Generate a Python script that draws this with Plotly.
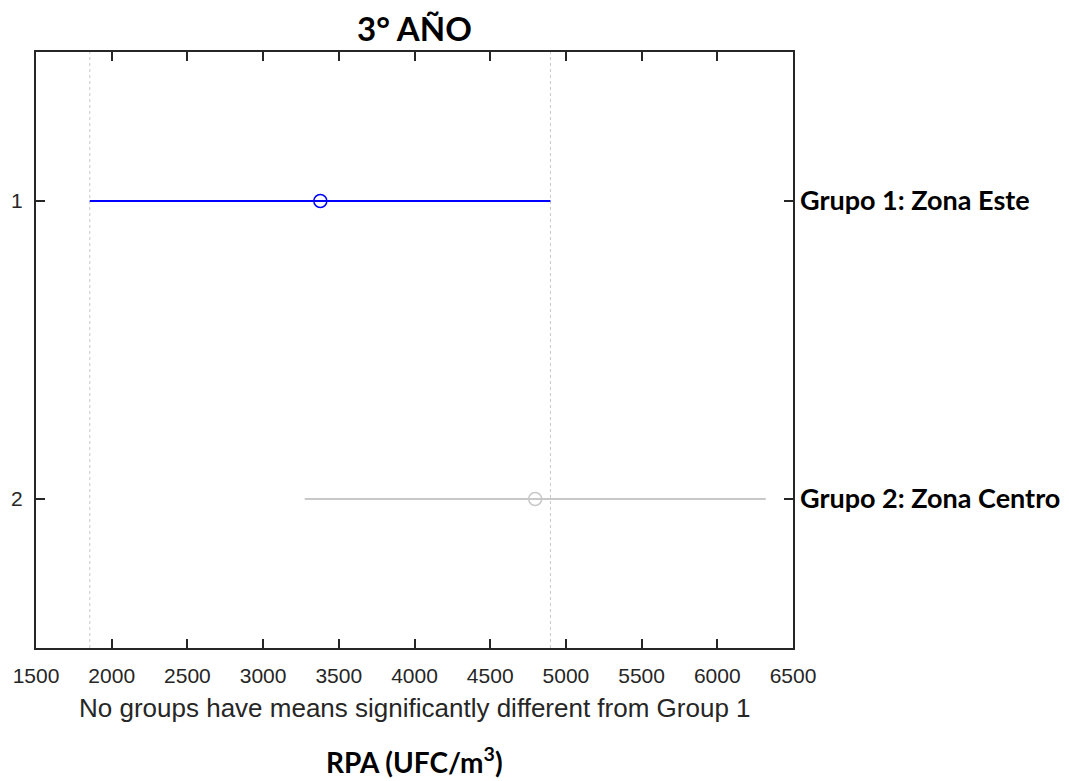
import plotly.graph_objects as go

# Multiple comparison intervals
group_ids = [1, 2]
group_labels = ["Grupo 1: Zona Este", "Grupo 2: Zona Centro"]
means = [3378, 4797]
lower = [1855, 3275]
upper = [4898, 6320]
group_colors = ["#0000FF", "#C8C8C8"]

x_ticks = [1500, 2000, 2500, 3000, 3500, 4000, 4500, 5000, 5500, 6000, 6500]

AXIS_COLOR = "#262626"
LABEL_FONT = "Lato"
TICK_FONT = "Liberation Sans"

fig = go.Figure()

for idx, gid in enumerate(group_ids):
    fig.add_trace(
        go.Scatter(
            x=[lower[idx], upper[idx]],
            y=[gid, gid],
            mode="lines",
            line=dict(color=group_colors[idx], width=2),
            showlegend=False,
            hoverinfo="skip",
        )
    )
    fig.add_trace(
        go.Scatter(
            x=[means[idx]],
            y=[gid],
            mode="markers",
            marker=dict(
                symbol="circle-open",
                size=13,
                color=group_colors[idx],
                line=dict(width=1.5, color=group_colors[idx]),
            ),
            showlegend=False,
        )
    )

# dotted reference lines at the ends of group 1's interval
for xv in (lower[0], upper[0]):
    fig.add_shape(
        type="line",
        x0=xv,
        x1=xv,
        y0=0,
        y1=1,
        xref="x",
        yref="paper",
        line=dict(color="#C8C8C8", width=1, dash="dot"),
        layer="below",
    )

# invisible trace so the right-hand label axis is drawn
fig.add_trace(
    go.Scatter(x=[means[0]], y=[group_ids[0]], yaxis="y2", mode="markers",
               marker=dict(opacity=0), showlegend=False, hoverinfo="skip")
)

fig.update_layout(
    width=1061,
    height=773,
    plot_bgcolor="white",
    paper_bgcolor="white",
    margin=dict(l=28, r=276, t=44, b=133, pad=0),
    title=dict(
        text="<b>3° AÑO</b>",
        xref="paper",
        x=0.5,
        xanchor="center",
        y=1 - 21 / 773,
        yanchor="middle",
        font=dict(family=LABEL_FONT, size=33, color="black"),
    ),
    xaxis=dict(
        range=[1500, 6500],
        tickvals=x_ticks,
        ticks="inside",
        ticklen=9,
        tickwidth=2,
        tickcolor=AXIS_COLOR,
        showline=True,
        linewidth=2,
        linecolor=AXIS_COLOR,
        mirror="ticks",
        showgrid=False,
        zeroline=False,
        automargin=False,
        ticklabelstandoff=8,
        tickfont=dict(family=TICK_FONT, size=21, color=AXIS_COLOR),
    ),
    yaxis=dict(
        range=[2.5, 0.5],
        tickvals=group_ids,
        ticks="inside",
        ticklen=9,
        tickwidth=2,
        tickcolor=AXIS_COLOR,
        showline=True,
        linewidth=2,
        linecolor=AXIS_COLOR,
        mirror="ticks",
        showgrid=False,
        zeroline=False,
        automargin=False,
        ticklabelstandoff=7,
        tickfont=dict(family=TICK_FONT, size=21, color=AXIS_COLOR),
    ),
    yaxis2=dict(
        overlaying="y",
        side="right",
        range=[2.5, 0.5],
        tickvals=group_ids,
        ticktext=group_labels,
        ticks="",
        showline=False,
        showgrid=False,
        zeroline=False,
        automargin=False,
        ticklabelstandoff=6,
        tickfont=dict(family=LABEL_FONT, size=27, color="black", weight="bold"),
    ),
    annotations=[
        dict(
            text="No groups have means significantly different from Group 1",
            xref="paper",
            yref="paper",
            x=0.5,
            y=1 - (708 - 52) / 596,
            xanchor="center",
            yanchor="middle",
            showarrow=False,
            font=dict(family=TICK_FONT, size=26, color=AXIS_COLOR),
        ),
        dict(
            text="<b>RPA (UFC/m<sup>3</sup>)</b>",
            xref="paper",
            yref="paper",
            x=0.5,
            y=1 - (760 - 52) / 596,
            xanchor="center",
            yanchor="middle",
            showarrow=False,
            font=dict(family=LABEL_FONT, size=28, color="black"),
        ),
    ],
)

fig.write_html("out.html")
